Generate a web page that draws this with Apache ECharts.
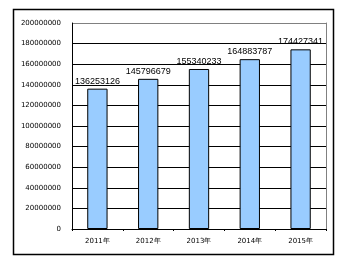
<!DOCTYPE html>
<html><head><meta charset="utf-8">
<script src="https://cdn.jsdelivr.net/npm/echarts@6/dist/echarts.min.js"></script>
<style>html,body{margin:0;padding:0;background:#fff}#c{width:353px;height:263px}</style>
</head><body><div id="c"></div>
<script>
const categories = ['2011年','2012年','2013年','2014年','2015年'];
const values = [136253126, 145796679, 155340233, 164883787, 174427341];
const yMax = 200000000;
const yInterval = 20000000;

const chart = echarts.init(document.getElementById('c'), null, {renderer:'canvas'});
const gridColors = [];
for (let i = 0; i <= yMax / yInterval; i++) gridColors.push(i === yMax / yInterval ? '#808080' : '#000');
chart.setOption({
  animation: false,
  backgroundColor: '#fff',
  graphic: [{type:'rect', shape:{x:13.5,y:9.5,width:320,height:245}, style:{fill:'none', stroke:'#000', lineWidth:1.5}, z:-1}],
  grid: {left:72, top:23, right:27, bottom:34},
  xAxis: {
    type:'category', data: categories,
    axisLine:{lineStyle:{color:'#000', width:1}},
    axisTick:{show:true, length:2, lineStyle:{color:'#000'}},
    axisLabel:{fontSize:7, color:'#000', margin:9, fontFamily:'DejaVu Sans'}
  },
  yAxis: [{
    type:'value', min:0, max:yMax, interval:yInterval,
    axisLine:{show:true, lineStyle:{color:'#000'}},
    axisTick:{show:false},
    splitLine:{show:true, lineStyle:{color:gridColors, width:1}},
    axisLabel:{fontSize:7, color:'#000', margin:11, fontFamily:'DejaVu Sans', formatter: v => String(v)}
  },{
    type:'value', position:'right', min:0, max:yMax, interval:yInterval,
    axisLine:{show:true, lineStyle:{color:'#808080'}},
    axisTick:{show:false}, axisLabel:{show:false}, splitLine:{show:false}
  }],
  series: [{
    type:'bar', data: values, barWidth:'40%',
    itemStyle:{color:'#99CCFF', borderColor:'#000', borderWidth:1},
    label:{show:true, position:'top', distance:3, fontSize:9, color:'#000', fontFamily:'Liberation Sans'}
  }]
});
</script></body></html>
